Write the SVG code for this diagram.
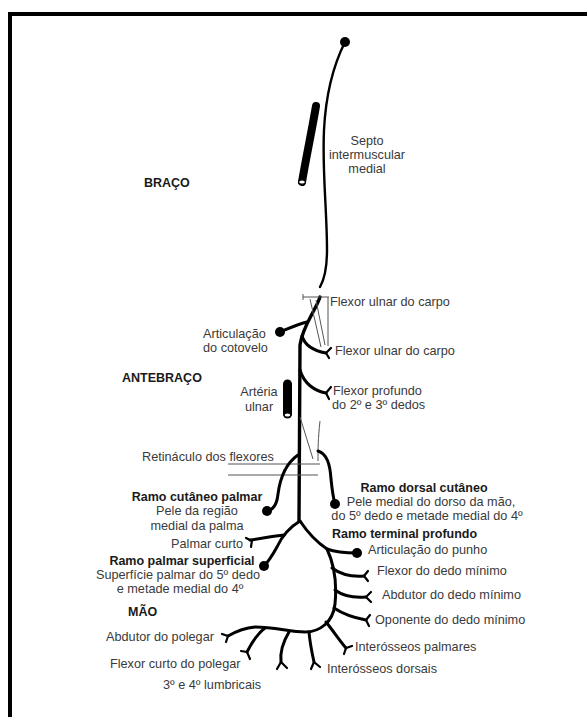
<svg xmlns="http://www.w3.org/2000/svg" width="587" height="717" viewBox="0 0 587 717">
<style>
.t{font-family:"Liberation Sans",Arial,sans-serif;font-size:12.7px;fill:#3a3a3a}
.b{font-family:"Liberation Sans",Arial,sans-serif;font-size:12.5px;font-weight:bold;fill:#1a1a1a}
.m{text-anchor:middle}
.e{text-anchor:end}
.n{fill:none;stroke:#000;stroke-linecap:round;stroke-linejoin:round}
.n1{stroke-width:2.4}
.n2{stroke-width:3.4}
.n3{stroke-width:3}
.f{fill:none;stroke:#000;stroke-width:2.2;stroke-linecap:round}
.thin{fill:none;stroke:#555;stroke-width:1}
.dot{fill:#000}
</style>
<rect x="0" y="0" width="587" height="717" fill="#fff"/>
<rect x="10" y="14" width="620" height="740" fill="none" stroke="#000" stroke-width="4"/>

<g id="connectors">
  <!-- upper ulnar nerve -->
  <path class="n n1" d="M345,42 C336,60 326,90 324,130 C322,170 327,210 327,250 C327,268 324,280 320,287"/>
  <!-- forearm trunk -->
  <path class="n n2" d="M320,297 C315,312 303,325 300,345 L299,521"/>
  <!-- muscle outline (flexor ulnar do carpo heads) -->
  <path class="thin" d="M303,297 L329,297 M303,294 L303,300 M328,297 L328,346 M310,299 L321,347 M316,300 L325,345"/>
  <!-- elbow branch -->
  <path class="n n3" d="M307,322 C298,324 290,328 280,332"/>
  <!-- FCU branch -->
  <path class="n n3" d="M302,336 C305,346 315,351 326,353"/>
  <path class="f" d="M326,353 L331,348 M326,353 L329,358"/>
  <!-- FDP branch -->
  <path class="n n3" d="M300,370 C304,384 315,391 326,393"/>
  <path class="f" d="M326,393 L331,387 M326,393 L329,399"/>
  <!-- wrist thin lines -->
  <path class="thin" d="M300,417 L313,459 M320,421 C318,439 318,449 318,461"/>
  <path class="thin" d="M228,464 L320,464 M228,475 L318,475"/>
  <!-- palmar cutaneous branch -->
  <path class="n n3" d="M298,455 C285,464 280,479 278,494 C277,504 273,510 267,511"/>
  <!-- dorsal cutaneous branch -->
  <path class="n n3" d="M318,451 C327,454 330,464 331,479 C332,489 333,497 335,504"/>
  <!-- superficial branch -->
  <path class="n n3" d="M300,521 C290,527 282,536 277,547 C272,556 268,562 264,566"/>
  <path class="n n3" d="M284,535 C272,536 260,539 250,540"/>
  <path class="f" d="M250,540 L246,538 M252,540 L251,547"/>
  <!-- deep branch -->
  <path class="n n3" d="M300,521 C306,530 315,541 327,549 C335,552 345,553 357,553"/>
  <path class="n n3" d="M327,549 C334,564 337,584 335,604 C333,622 320,632 305,632 C290,632 275,627 255,627 C243,628 235,632 228,636"/>
  <path class="f" d="M228,636 L222,634 M228,636 L226,642"/>
  <!-- deep branch muscular twigs -->
  <path class="n n3" d="M332,568 C340,574 350,577 364,576"/>
  <path class="f" d="M364,576 L368,571 M364,576 L368,581"/>
  <path class="n n3" d="M335,590 C343,596 353,598 366,597"/>
  <path class="f" d="M366,597 L371,592 M366,597 L371,602"/>
  <path class="n n3" d="M334,608 C343,614 355,618 366,620"/>
  <path class="f" d="M366,620 L370,615 M366,620 L369,626"/>
  <path class="n n3" d="M326,622 C334,632 340,641 346,648"/>
  <path class="f" d="M346,648 L352,646 M346,648 L344,654"/>
  <path class="n n3" d="M309,632 C310,644 312,653 314,662"/>
  <path class="f" d="M314,662 L320,667 M314,662 L311,669"/>
  <path class="n n3" d="M289,632 C283,642 280,653 281,662"/>
  <path class="f" d="M281,662 L277,669 M281,662 L287,668"/>
  <path class="n n3" d="M265,628 C257,634 252,642 247,652"/>
  <path class="f" d="M247,652 L241,651 M247,652 L250,659"/>
</g>

<g id="dot-origin"><circle class="dot" cx="345" cy="42" r="5"/></g>

<g id="arteria-braco">
  <path d="M316,106 C312,130 306,158 302,182" fill="none" stroke="#000" stroke-width="8" stroke-linecap="round"/>
  <ellipse cx="302" cy="182" rx="3.4" ry="2.2" fill="#fff" stroke="#000" stroke-width="1.2"/>
</g>
<g id="septo">
  <text class="t m" x="367" y="145">Septo</text>
  <text class="t m" x="367" y="159">intermuscular</text>
  <text class="t m" x="367" y="173">medial</text>
</g>
<g id="braco"><text class="b" x="144" y="187">BRAÇO</text></g>
<g id="fuc1"><text class="t" x="330" y="306">Flexor ulnar do carpo</text></g>
<g id="articulacao-cotovelo">
  <circle class="dot" cx="280" cy="332" r="5"/>
  <text class="t" x="203" y="338">Articulação</text>
  <text class="t" x="203" y="352">do cotovelo</text>
</g>
<g id="fuc2"><text class="t" x="335" y="355">Flexor ulnar do carpo</text></g>
<g id="antebraco"><text class="b" x="122" y="382">ANTEBRAÇO</text></g>
<g id="arteria-ulnar">
  <path d="M287.5,384 L287.5,414" fill="none" stroke="#000" stroke-width="9" stroke-linecap="round"/>
  <ellipse cx="287.5" cy="415" rx="3.4" ry="2.2" fill="#fff" stroke="#000" stroke-width="1.2"/>
  <text class="t m" x="259" y="396">Artéria</text>
  <text class="t m" x="259" y="411">ulnar</text>
</g>
<g id="fdp">
  <text class="t" x="333" y="395">Flexor profundo</text>
  <text class="t" x="332" y="409">do 2º e 3º dedos</text>
</g>
<g id="retinaculo"><text class="t" x="142" y="461">Retináculo dos flexores</text></g>
<g id="ramo-cutaneo-palmar">
  <circle class="dot" cx="267" cy="511" r="5"/>
  <text class="b m" x="197" y="501">Ramo cutâneo palmar</text>
  <text class="t m" x="197" y="515">Pele da região</text>
  <text class="t m" x="197" y="530">medial da palma</text>
</g>
<g id="palmar-curto"><text class="t e" x="243" y="548">Palmar curto</text></g>
<g id="ramo-dorsal-cutaneo">
  <circle class="dot" cx="335" cy="504" r="5"/>
  <text class="b m" x="424" y="492">Ramo dorsal cutâneo</text>
  <text class="t m" x="431" y="506">Pele medial do dorso da mão,</text>
  <text class="t m" x="427" y="520">do 5º dedo e metade medial do 4º</text>
</g>
<g id="ramo-terminal-profundo"><text class="b" x="332" y="538">Ramo terminal profundo</text></g>
<g id="articulacao-punho">
  <circle class="dot" cx="357" cy="553" r="5"/>
  <text class="t" x="368" y="554">Articulação do punho</text>
</g>
<g id="ramo-palmar-superficial">
  <circle class="dot" cx="264" cy="566" r="5"/>
  <text class="b m" x="182" y="565">Ramo palmar superficial</text>
  <text class="t m" x="178" y="579">Superfície palmar do 5º dedo</text>
  <text class="t m" x="180" y="593">e metade medial do 4º</text>
</g>
<g id="mao"><text class="b" x="128" y="616">MÃO</text></g>
<g id="abdutor-polegar"><text class="t" x="106" y="641">Abdutor do polegar</text></g>
<g id="flexor-curto-polegar"><text class="t" x="110" y="668">Flexor curto do polegar</text></g>
<g id="lumbricais"><text class="t" x="163" y="689">3º e 4º lumbricais</text></g>
<g id="flexor-dedo-minimo"><text class="t" x="377" y="575">Flexor do dedo mínimo</text></g>
<g id="abdutor-dedo-minimo"><text class="t" x="382" y="599">Abdutor do dedo mínimo</text></g>
<g id="oponente-dedo-minimo"><text class="t" x="375" y="624">Oponente do dedo mínimo</text></g>
<g id="interosseos-palmares"><text class="t" x="355" y="651">Interósseos palmares</text></g>
<g id="interosseos-dorsais"><text class="t" x="327" y="673">Interósseos dorsais</text></g>
</svg>
